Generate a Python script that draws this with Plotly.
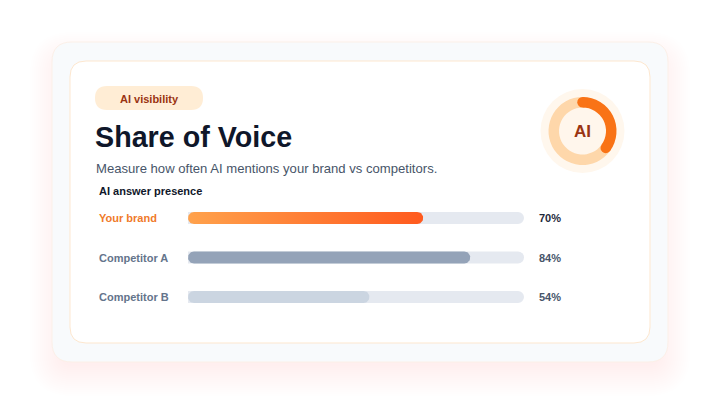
import numpy as np
import plotly.graph_objects as go

W, H = 720, 405

categories = ["Your brand", "Competitor A", "Competitor B"]
values = [70, 84, 54]
value_labels = ["70%", "84%", "54%"]
donut_share = [35, 65]
badge_text = "AI visibility"
title_text = "Share of Voice"
subtitle_text = "Measure how often AI mentions your brand vs competitors."
section_text = "AI answer presence"
donut_text = "AI"

FONT = "Liberation Sans, Arial, Helvetica, sans-serif"


def px(x):
    return x / W


def py(y):
    return 1 - y / H


def rr_path(x0, y0, x1, y1, r):
    pts = [
        ("M", [(x0 + r, y0)]), ("L", [(x1 - r, y0)]), ("Q", [(x1, y0), (x1, y0 + r)]),
        ("L", [(x1, y1 - r)]), ("Q", [(x1, y1), (x1 - r, y1)]),
        ("L", [(x0 + r, y1)]), ("Q", [(x0, y1), (x0, y1 - r)]),
        ("L", [(x0, y0 + r)]), ("Q", [(x0, y0), (x0 + r, y0)]),
    ]
    s = ""
    for cmd, ps in pts:
        s += cmd + " " + " ".join(f"{px(a):.5f},{py(b):.5f}" for a, b in ps) + " "
    return s + "Z"


shapes = []
# soft shadow around outer card (offset downward)
n_layers = 16
for i in range(n_layers):
    e = -8 + i * 2.0
    shapes.append(dict(type="path", xref="paper", yref="paper",
                       path=rr_path(52 - e, 42 - e + 12, 668 + e, 362 + e + 12, max(20 + e, 6)),
                       fillcolor="rgba(215,140,110,0.009)", line=dict(width=0), layer="below"))
# outer card
shapes.append(dict(type="path", xref="paper", yref="paper", path=rr_path(52, 42, 668, 362, 20),
                   fillcolor="#f8fafc", line=dict(color="#fcf0e8", width=1), layer="below"))
# inner card
shapes.append(dict(type="path", xref="paper", yref="paper", path=rr_path(70, 61, 650, 343, 16),
                   fillcolor="#ffffff", line=dict(color="#fde7cf", width=1), layer="below"))
# badge
shapes.append(dict(type="path", xref="paper", yref="paper", path=rr_path(95, 86, 203, 110, 12),
                   fillcolor="#ffedd5", line=dict(width=0), layer="below"))
# donut halo
cx, cy = 582.5, 131
R_out, R_in = 34, 23.5
shapes.append(dict(type="circle", xref="paper", yref="paper",
                   x0=px(cx - 42), x1=px(cx + 42), y0=py(cy + 42), y1=py(cy - 42),
                   fillcolor="#fff7ed", line=dict(width=0), layer="below"))
shapes.append(dict(type="circle", xref="paper", yref="paper",
                   x0=px(cx - R_in), x1=px(cx + R_in), y0=py(cy + R_in), y1=py(cy - R_in),
                   fillcolor="#fff6ec", line=dict(width=0), layer="below"))
# rounded caps of the progress arc
r_mid = (R_out + R_in) / 2
cap = (R_out - R_in) / 2
frac = donut_share[0] / sum(donut_share)
for ang in [0.0, frac * 2 * np.pi]:
    ex = cx + r_mid * np.sin(ang)
    ey = cy - r_mid * np.cos(ang)
    shapes.append(dict(type="circle", xref="paper", yref="paper",
                       x0=px(ex - cap), x1=px(ex + cap), y0=py(ey + cap), y1=py(ey - cap),
                       fillcolor="#f97316", line=dict(width=0), layer="above"))

fig = go.Figure()

# donut
fig.add_trace(go.Pie(values=donut_share, hole=R_in / R_out, sort=False, direction="clockwise",
                     marker=dict(colors=["#f97316", "#fed7aa"], line=dict(width=0)),
                     textinfo="none", hoverinfo="skip", showlegend=False,
                     domain=dict(x=[px(cx - R_out), px(cx + R_out)], y=[py(cy + R_out), py(cy - R_out)])))

# tracks
ypos = list(range(len(categories)))
bw = 0.31
fig.add_trace(go.Bar(x=[100] * len(categories), y=ypos, orientation="h", width=bw,
                     marker=dict(color="#e5e9f0", line=dict(width=0), cornerradius=6),
                     hoverinfo="skip", showlegend=False))

# value bars with rounded ends, drawn through the data axes
x_dom = [px(188), px(524)]
unit_x = (524 - 188) / 100.0
row_px = 39.5
rx = 6 / unit_x
ry = bw / 2
t = np.linspace(-np.pi / 2, np.pi / 2, 24)


def pill(v, yc):
    right_x = (v - rx) + rx * np.cos(t)
    right_y = ry * np.sin(t)
    left_x = rx - rx * np.cos(t)
    left_y = -ry * np.sin(t)
    bx = np.concatenate([right_x, left_x, right_x[:1]])
    by = np.concatenate([right_y, left_y, right_y[:1]]) + yc
    return bx, by


bar_fills = [None, "#94a3b8", "#cbd5e1"]
for i, v in enumerate(values):
    bx, by = pill(v, ypos[i])
    kw = {}
    if i == 0:
        kw["fillgradient"] = dict(type="horizontal", colorscale=[[0, "#ffa24c"], [1, "#ff5a1e"]])
    else:
        kw["fillcolor"] = bar_fills[i]
    fig.add_trace(go.Scatter(x=bx, y=by, mode="lines", fill="toself", line=dict(width=0),
                             hoverinfo="skip", showlegend=False, **kw))

y_top = 218 - row_px * 0.5
y_bot = 218 + row_px * 2.5

annotations = [
    dict(text=f"<b>{badge_text}</b>", x=px(149), y=py(98.5), xref="paper", yref="paper",
         showarrow=False, font=dict(family=FONT, size=11, color="#9a3412"), xanchor="center", yanchor="middle"),
    dict(text=f"<b>{title_text}</b>", x=px(93), y=py(137.5), xref="paper", yref="paper",
         showarrow=False, font=dict(family=FONT, size=28.7, color="#0f172a"), xanchor="left", yanchor="middle"),
    dict(text=subtitle_text, x=px(94), y=py(168.5), xref="paper", yref="paper",
         showarrow=False, font=dict(family=FONT, size=13.1, color="#475569"), xanchor="left", yanchor="middle"),
    dict(text=f"<b>{section_text}</b>", x=px(97), y=py(191.5), xref="paper", yref="paper",
         showarrow=False, font=dict(family=FONT, size=11, color="#0f172a"), xanchor="left", yanchor="middle"),
    dict(text=f"<b>{donut_text}</b>", x=px(cx), y=py(cy), xref="paper", yref="paper",
         showarrow=False, font=dict(family=FONT, size=17, color="#9a3412"), xanchor="center", yanchor="middle"),
]
label_colors = ["#f07a2a", "#64748b", "#64748b"]
value_colors = ["#1e293b", "#475569", "#475569"]
for i, (c, lab) in enumerate(zip(categories, value_labels)):
    annotations.append(dict(text=f"<b>{c}</b>", x=px(97), y=ypos[i], xref="paper", yref="y",
                            showarrow=False, font=dict(family=FONT, size=11, color=label_colors[i]),
                            xanchor="left", yanchor="middle"))
    annotations.append(dict(text=f"<b>{lab}</b>", x=px(537), y=ypos[i], xref="paper", yref="y",
                            showarrow=False, font=dict(family=FONT, size=11, color=value_colors[i]),
                            xanchor="left", yanchor="middle"))

fig.update_layout(
    width=W, height=H, margin=dict(l=0, r=0, t=0, b=0),
    paper_bgcolor="#ffffff", plot_bgcolor="rgba(0,0,0,0)",
    barmode="overlay",
    xaxis=dict(domain=x_dom, range=[0, 100], visible=False, fixedrange=True),
    yaxis=dict(domain=[py(y_bot), py(y_top)], range=[2.5, -0.5], visible=False, fixedrange=True),
    shapes=shapes, annotations=annotations, showlegend=False,
)

fig.write_html("out.html")
